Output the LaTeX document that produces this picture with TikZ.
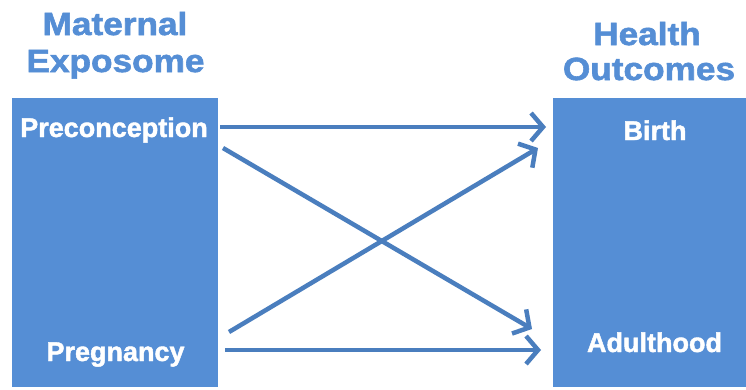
\documentclass[tikz,border=0pt]{standalone}
\usepackage{fontspec}
\setmainfont{Liberation Sans}[BoldFeatures={FakeBold=1.6}]
\newfontfamily\titlefont{Liberation Sans}[FakeStretch=1.1, BoldFeatures={FakeBold=1.8}]
\usetikzlibrary{arrows.meta}
\definecolor{boxblue}{RGB}{85,142,213}
\definecolor{arrowblue}{RGB}{74,126,190}
\tikzset{
  panel/.style={fill=boxblue, draw=none},
  heading/.style={text=boxblue, anchor=base, inner sep=0pt,
    font=\titlefont\bfseries\fontsize{32bp}{36bp}\selectfont},
  label/.style={text=white, anchor=base, inner sep=0pt,
    font=\bfseries\fontsize{27bp}{30bp}\selectfont},
  link/.style={draw=arrowblue, line width=4.5bp,
    -{Straight Barb[length=12bp, width=28bp, line width=4.5bp]}},
}
\begin{document}
\begin{tikzpicture}[x=1bp, y=-1bp]
  \useasboundingbox[fill=white] (0,0) rectangle (746,389);

  % column headings
  \node[heading] (h1a) at (115,35) {Maternal};
  \node[heading] (h1b) at (115.5,72) {Exposome};
  \node[heading] (h2a) at (647,45) {Health};
  \node[heading] (h2b) at (649,80) {Outcomes};

  % the two panels
  \path[panel] (12,98) rectangle (218,387);
  \path[panel] (553,98) rectangle (746,387);

  % stages inside the panels
  \node[label] (pre) at (114,137) {Preconception};
  \node[label] (preg) at (115.5,361) {Pregnancy};
  \node[label] (birth) at (655,140) {Birth};
  \node[label] (adult) at (654.5,352) {Adulthood};

  % connector ends
  \coordinate (preA) at (220,127);
  \coordinate (preB) at (223,148);
  \coordinate (pregA) at (229,332);
  \coordinate (pregB) at (225,350);
  \coordinate (birthA) at (546,127);
  \coordinate (birthB) at (538,148);
  \coordinate (adultA) at (532,329);
  \coordinate (adultB) at (541,350);

  % exposure periods to outcomes
  \draw[link] (preA) -- (birthA);
  \draw[link] (preB) -- (adultA);
  \draw[link] (pregA) -- (birthB);
  \draw[link] (pregB) -- (adultB);
\end{tikzpicture}
\end{document}
